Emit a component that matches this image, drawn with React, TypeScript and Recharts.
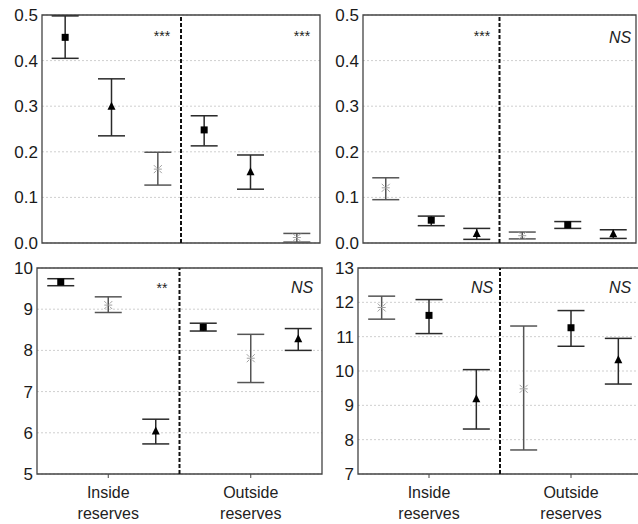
import React from 'react'
import {
  ScatterChart, Scatter, XAxis, YAxis, CartesianGrid, ErrorBar,
  ReferenceLine, ReferenceArea,
} from 'recharts'

// six slots per panel: 3 inside reserves, 3 outside reserves
// marker codes: sq = filled square, tri = filled triangle, ast = grey asterisk
const p1Mean = [0.451, 0.299, 0.162, 0.248, 0.155, 0.012]
const p1Lo = [0.405, 0.235, 0.127, 0.213, 0.118, 0.002]
const p1Hi = [0.498, 0.36, 0.199, 0.279, 0.193, 0.021]
const p1Mk = ['sq', 'tri', 'ast', 'sq', 'tri', 'ast']

const p2Mean = [0.121, 0.05, 0.02, 0.016, 0.04, 0.019]
const p2Lo = [0.095, 0.038, 0.008, 0.009, 0.032, 0.01]
const p2Hi = [0.143, 0.059, 0.032, 0.024, 0.047, 0.029]
const p2Mk = ['ast', 'sq', 'tri', 'ast', 'sq', 'tri']

const p3Mean = [9.66, 9.1, 6.03, 8.56, 7.81, 8.27]
const p3Lo = [9.57, 8.92, 5.73, 8.47, 7.22, 8.0]
const p3Hi = [9.74, 9.3, 6.33, 8.66, 8.39, 8.53]
const p3Mk = ['sq', 'ast', 'tri', 'sq', 'ast', 'tri']

const p4Mean = [11.85, 11.62, 9.18, 9.48, 11.26, 10.31]
const p4Lo = [11.51, 11.09, 8.31, 7.7, 10.72, 9.62]
const p4Hi = [12.18, 12.08, 10.04, 11.31, 11.76, 10.95]
const p4Mk = ['ast', 'sq', 'tri', 'ast', 'sq', 'tri']

const propTicks = [0, 0.1, 0.2, 0.3, 0.4, 0.5]
const p3Ticks = [5, 6, 7, 8, 9, 10]
const p4Ticks = [7, 8, 9, 10, 11, 12, 13]

const groupLabels = [['Inside', 'reserves'], ['Outside', 'reserves']]
const groupTicks = [1.5, 4.5]

const FONT = '"Liberation Sans", Arial, sans-serif'
const FRAME = '#444'

const SERIES = [
  { mk: 'sq', bar: '#2a2a2a' },
  { mk: 'tri', bar: '#2a2a2a' },
  { mk: 'ast', bar: '#555' },
]

// eslint-disable-next-line @typescript-eslint/no-explicit-any
function Marker({ cx, cy, payload }: any) {
  if (cx == null || cy == null) return null
  if (payload.mk === 'sq') {
    return <rect x={cx - 3.5} y={cy - 3.5} width={7} height={7} fill="#000" />
  }
  if (payload.mk === 'tri') {
    return <polygon points={`${cx},${cy - 5} ${cx + 4},${cy + 3} ${cx - 4},${cy + 3}`} fill="#000" />
  }
  const d = `M${cx - 4},${cy - 4}L${cx - 1.5},${cy - 1.5}M${cx + 4},${cy - 4}L${cx + 1.5},${cy - 1.5}` +
    `M${cx - 4},${cy + 4}L${cx - 1.5},${cy + 1.5}M${cx + 4},${cy + 4}L${cx + 1.5},${cy + 1.5}` +
    `M${cx - 4},${cy}L${cx + 4},${cy}`
  return <path d={d} stroke="#a0a0a0" strokeWidth={1} fill="none" />
}

// eslint-disable-next-line @typescript-eslint/no-explicit-any
function GroupTick({ x, y, payload }: any) {
  const idx = groupTicks.indexOf(payload.value)
  const lines = groupLabels[idx] || []
  return (
    <text x={x} y={y} textAnchor="middle" fontSize={16} fill="#222" fontFamily={FONT}>
      <tspan x={x} dy={18}>{lines[0]}</tspan>
      <tspan x={x} dy={21}>{lines[1]}</tspan>
    </text>
  )
}

interface PanelProps {
  mean: number[]; lo: number[]; hi: number[]; mk: string[]
  ticks: number[]; fmt: (v: number) => string; showX: boolean
  left: number; top: number; width: number; height: number; yWidth: number
  margin: { top: number; right: number; bottom: number; left: number }
}

function Panel({ mean, lo, hi, mk, ticks, fmt, showX, left, top, width, height, yWidth, margin }: PanelProps) {
  const rows = mean.map((m, i) => ({ x: i + 0.5, y: m, err: [m - lo[i], hi[i] - m], mk: mk[i] }))
  const yMin = ticks[0]
  const yMax = ticks[ticks.length - 1]
  return (
    <div style={{ position: 'absolute', left, top }}>
      <ScatterChart width={width} height={height} margin={margin}>
        <CartesianGrid vertical={false} stroke="#cfcfcf" strokeDasharray="2 2" />
        <XAxis
          type="number" dataKey="x" domain={[0, 6]} ticks={groupTicks} hide={!showX}
          height={50} axisLine={false} tickSize={4} tickMargin={2}
          tickLine={{ stroke: FRAME }} tick={<GroupTick />} interval={0}
        />
        <YAxis
          type="number" dataKey="y" domain={[yMin, yMax]} ticks={ticks} width={yWidth}
          axisLine={false} tickLine={false} tickSize={0} tickMargin={4}
          tickFormatter={fmt} interval={0}
          tick={{ fill: '#1a1a1a', fontSize: 17, fontFamily: FONT }}
        />
        <ReferenceArea x1={0} x2={6} y1={yMin} y2={yMax} fill="none" stroke={FRAME} strokeWidth={1.3} />
        <ReferenceLine x={3} stroke="#111" strokeWidth={2} strokeDasharray="4 2" />
        {SERIES.map((s) => (
          <Scatter
            key={s.mk}
            data={rows.filter((r) => r.mk === s.mk)}
            shape={<Marker />}
            isAnimationActive={false}
          >
            <ErrorBar dataKey="err" direction="y" width={13.5} stroke={s.bar} strokeWidth={1.5} isAnimationActive={false} />
          </Scatter>
        ))}
      </ScatterChart>
    </div>
  )
}

const fmt1 = (v: number) => v.toFixed(1)
const fmt0 = (v: number) => String(v)

export default function App() {
  return (
    <div style={{ position: 'fixed', left: 0, top: 0, width: 638, height: 524, overflow: 'hidden', background: '#fff' }}>
      <Panel mean={p1Mean} lo={p1Lo} hi={p1Hi} mk={p1Mk} ticks={propTicks} fmt={fmt1} showX={false}
        left={0} top={0} width={330} height={262} yWidth={42}
        margin={{ top: 15, right: 10, bottom: 19, left: 0 }} />
      <Panel mean={p2Mean} lo={p2Lo} hi={p2Hi} mk={p2Mk} ticks={propTicks} fmt={fmt1} showX={false}
        left={318} top={0} width={330} height={262} yWidth={45}
        margin={{ top: 15, right: 12, bottom: 19, left: 0 }} />
      <Panel mean={p3Mean} lo={p3Lo} hi={p3Hi} mk={p3Mk} ticks={p3Ticks} fmt={fmt0} showX
        left={0} top={250} width={332} height={274} yWidth={37}
        margin={{ top: 18, right: 10, bottom: 0, left: 0 }} />
      <Panel mean={p4Mean} lo={p4Lo} hi={p4Hi} mk={p4Mk} ticks={p4Ticks} fmt={fmt0} showX
        left={318} top={250} width={334} height={274} yWidth={40}
        margin={{ top: 18, right: 10, bottom: 0, left: 0 }} />
      <svg width={638} height={524} style={{ position: 'absolute', left: 0, top: 0, pointerEvents: 'none' }}
        fontFamily={FONT} textAnchor="middle" fill="#222">
        <text x={162} y={41} fontSize={14}>***</text>
        <text x={302} y={41} fontSize={14}>***</text>
        <text x={482} y={41} fontSize={14}>***</text>
        <text x={620} y={43} fontSize={16} fontStyle="italic">NS</text>
        <text x={162} y={293} fontSize={14}>**</text>
        <text x={302} y={293} fontSize={16} fontStyle="italic">NS</text>
        <text x={482} y={293} fontSize={16} fontStyle="italic">NS</text>
        <text x={620} y={293} fontSize={16} fontStyle="italic">NS</text>
      </svg>
    </div>
  )
}
